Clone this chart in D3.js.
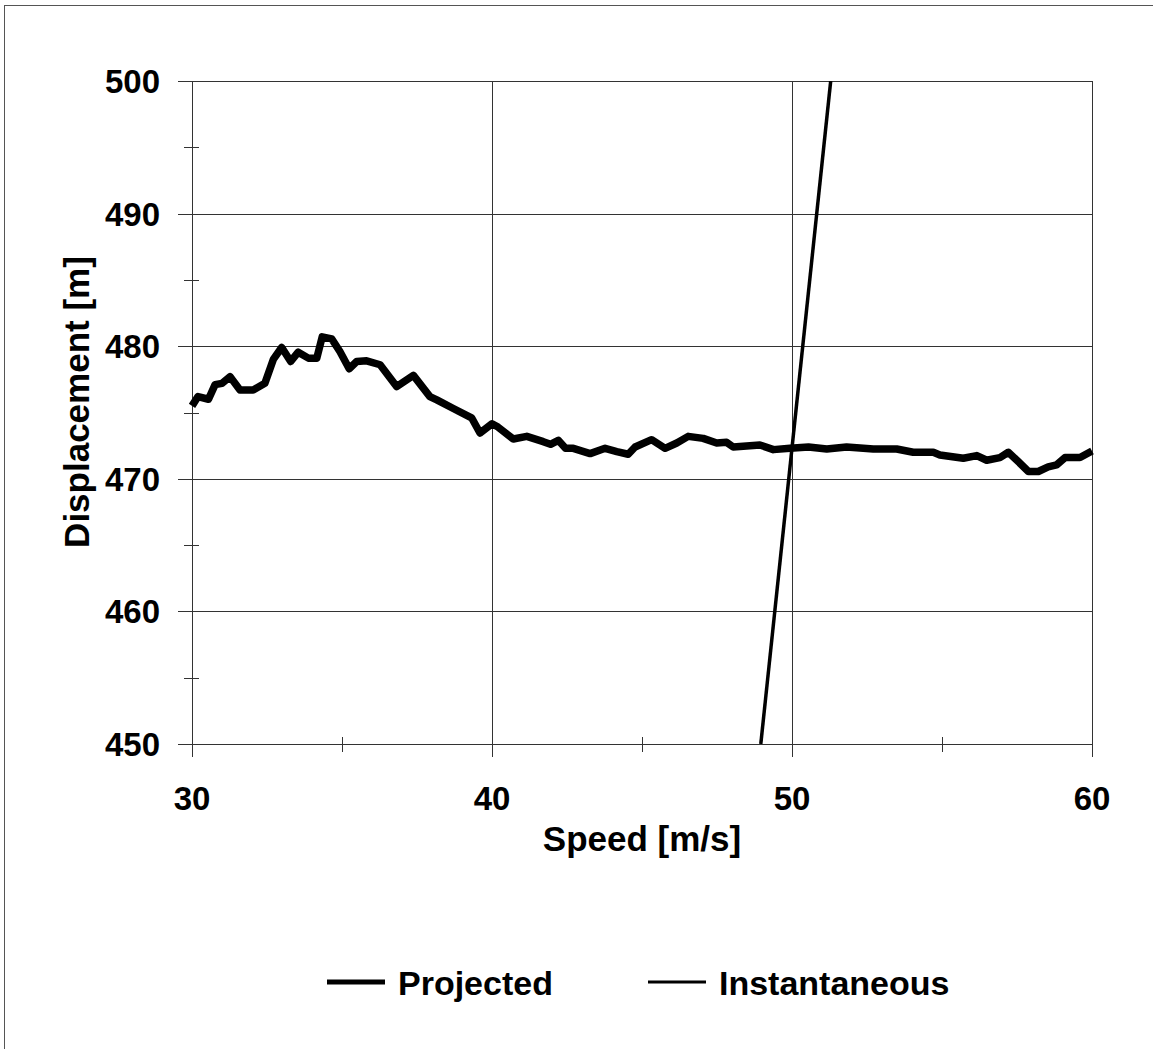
<!DOCTYPE html>
<html>
<head>
<meta charset="utf-8">
<script src="https://cdn.jsdelivr.net/npm/d3@7"></script>
<style>
  body { margin: 0; background: #fff; }
  text { font-family: "Liberation Sans", Arial, sans-serif; font-weight: bold; fill: #000; }
</style>
</head>
<body>
<svg width="1153" height="1049"></svg>
<script>
// Projected displacement vs speed
var projSpeed = [30.0, 30.2, 30.55, 30.77, 31.0, 31.27, 31.6, 32.04, 32.43, 32.71, 32.99, 33.29, 33.54, 33.88, 34.16,
    34.34, 34.66, 34.93, 35.24, 35.49, 35.82, 36.27, 36.82, 37.38, 37.93, 38.16, 38.71, 39.32, 39.6, 40.0,
    40.2, 40.71, 41.16, 41.71, 41.95, 42.21, 42.45, 42.71, 43.27, 43.77, 44.16, 44.54, 44.77, 45.32, 45.77,
    46.16, 46.54, 47.04, 47.49, 47.82, 48.04, 48.93, 49.38, 49.93, 50.55, 51.16, 51.82, 52.71, 53.49, 54.04,
    54.71, 54.93, 55.71, 56.16, 56.49, 56.93, 57.21, 57.54, 57.88, 58.21, 58.54, 58.82, 59.1, 59.6, 60.0];
var projDisp = [475.5, 476.2, 476.0, 477.1, 477.2, 477.7, 476.7, 476.7, 477.2, 479.0, 479.9, 478.85, 479.55, 479.1, 479.1,
    480.7, 480.55, 479.6, 478.3, 478.85, 478.9, 478.6, 476.96, 477.8, 476.2, 475.95, 475.3, 474.6, 473.45, 474.15,
    473.9, 473.0, 473.2, 472.8, 472.6, 472.9, 472.3, 472.3, 471.9, 472.3, 472.05, 471.85, 472.4, 472.95, 472.3,
    472.7, 473.2, 473.05, 472.7, 472.75, 472.4, 472.55, 472.2, 472.3, 472.4, 472.25, 472.4, 472.25, 472.25, 472.0,
    472.0, 471.8, 471.55, 471.75, 471.4, 471.6, 472.0, 471.3, 470.55, 470.55, 470.9, 471.05, 471.6, 471.6, 472.1];

// Instantaneous line
var instSpeed = [48.96, 51.29];
var instDisp = [450, 500];

var xTicks = [30, 40, 50, 60];
var xMinor = [35, 45, 55];
var yTicks = [450, 460, 470, 480, 490, 500];
var yMinor = [455, 465, 475, 485, 495];
var legendNames = ["Projected", "Instantaneous"];

var svg = d3.select("svg");

// outer chart border (only top/left show in the picture)
svg.append("rect")
    .attr("x", 4.5).attr("y", 5.5)
    .attr("width", 1200).attr("height", 1100)
    .attr("fill", "none").attr("stroke", "#555").attr("stroke-width", 1);

var x = d3.scaleLinear().domain([30, 60]).range([192, 1092]);
var y = d3.scaleLinear().domain([450, 500]).range([744, 81]);

var grid = svg.append("g").attr("stroke", "#333").attr("stroke-width", 1);

// gridlines
grid.selectAll("line.hg")
    .data(yTicks)
    .enter().append("line")
    .attr("x1", x(30)).attr("x2", x(60))
    .attr("y1", function (d) { return Math.round(y(d)) + 0.5 })
    .attr("y2", function (d) { return Math.round(y(d)) + 0.5 });

grid.selectAll("line.vg")
    .data(xTicks)
    .enter().append("line")
    .attr("y1", y(500)).attr("y2", y(450))
    .attr("x1", function (d) { return Math.round(x(d)) + 0.5 })
    .attr("x2", function (d) { return Math.round(x(d)) + 0.5 });

// major ticks outside, minor ticks crossing
grid.selectAll("line.xt")
    .data(xTicks)
    .enter().append("line")
    .attr("x1", function (d) { return Math.round(x(d)) + 0.5 })
    .attr("x2", function (d) { return Math.round(x(d)) + 0.5 })
    .attr("y1", y(450)).attr("y2", y(450) + 13);
grid.selectAll("line.xm")
    .data(xMinor)
    .enter().append("line")
    .attr("x1", function (d) { return Math.round(x(d)) + 0.5 })
    .attr("x2", function (d) { return Math.round(x(d)) + 0.5 })
    .attr("y1", y(450) - 7).attr("y2", y(450) + 8);
grid.selectAll("line.yt")
    .data(yTicks)
    .enter().append("line")
    .attr("y1", function (d) { return Math.round(y(d)) + 0.5 })
    .attr("y2", function (d) { return Math.round(y(d)) + 0.5 })
    .attr("x1", x(30) - 14).attr("x2", x(30));
grid.selectAll("line.ym")
    .data(yMinor)
    .enter().append("line")
    .attr("y1", function (d) { return Math.round(y(d)) + 0.5 })
    .attr("y2", function (d) { return Math.round(y(d)) + 0.5 })
    .attr("x1", x(30) - 8).attr("x2", x(30) + 7);

// tick labels
svg.selectAll("text.xl")
    .data(xTicks)
    .enter().append("text")
    .attr("x", function (d) { return x(d) })
    .attr("y", 810)
    .attr("text-anchor", "middle")
    .style("font-size", "33px")
    .text(function (d) { return d });

svg.selectAll("text.yl")
    .data(yTicks)
    .enter().append("text")
    .attr("x", 160)
    .attr("y", function (d) { return y(d) + 12 })
    .attr("text-anchor", "end")
    .style("font-size", "33px")
    .text(function (d) { return d });

// axis titles
svg.append("text")
    .attr("x", 642).attr("y", 851)
    .attr("text-anchor", "middle")
    .style("font-size", "35px")
    .text("Speed [m/s]");

svg.append("text")
    .attr("transform", "translate(89,402) rotate(-90)")
    .attr("text-anchor", "middle")
    .style("font-size", "35px")
    .text("Displacement [m]");

// series
var clip = svg.append("clipPath").attr("id", "plot")
    .append("rect").attr("x", x(30) - 4).attr("y", y(500)).attr("width", x(60) - x(30) + 8).attr("height", y(450) - y(500));

var line = d3.line()
    .x(function (d) { return x(d[0]) })
    .y(function (d) { return y(d[1]) });

svg.append("path")
    .datum(d3.zip(instSpeed, instDisp))
    .attr("clip-path", "url(#plot)")
    .attr("fill", "none")
    .attr("stroke", "#000")
    .attr("stroke-width", 3.5)
    .attr("d", line);

svg.append("path")
    .datum(d3.zip(projSpeed, projDisp))
    .attr("fill", "none")
    .attr("stroke", "#000")
    .attr("stroke-width", 7.5)
    .attr("stroke-linejoin", "round")
    .attr("d", line);

// legend
var legX = [327, 648];
var legW = [5, 3];
var leg = svg.selectAll("g.leg")
    .data(legendNames)
    .enter().append("g")
    .attr("transform", function (d, i) { return "translate(" + legX[i] + ",982)" });
leg.append("line")
    .attr("x1", 0).attr("x2", 58)
    .attr("stroke", "#000")
    .attr("stroke-width", function (d, i) { return legW[i] });
leg.append("text")
    .attr("x", 71).attr("y", 13)
    .style("font-size", "34px")
    .text(function (d) { return d });
</script>
</body>
</html>
